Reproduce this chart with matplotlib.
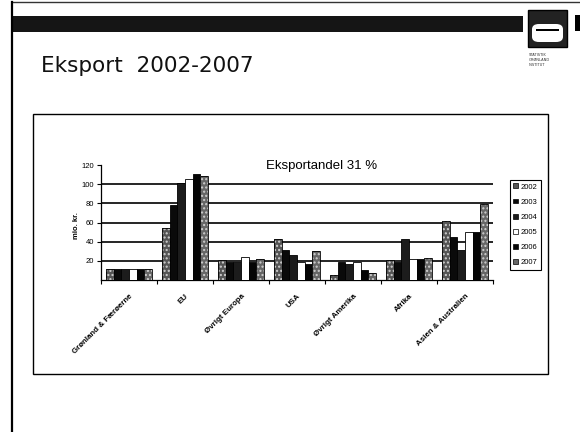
import numpy as np
import matplotlib
matplotlib.use("Agg")
import matplotlib.pyplot as plt
from matplotlib.patches import Rectangle, FancyBboxPatch
from matplotlib.lines import Line2D
from matplotlib.transforms import ScaledTranslation

# data (mio. kr.)
regions = ['Grønland & Færøerne', 'EU', 'Øvrigt Europa', 'USA',
           'Øvrigt Amerika', 'Afrika', 'Asien & Australien']
years = ['2002', '2003', '2004', '2005', '2006', '2007']
v2002 = [11, 54, 21, 43, 5, 21, 62]
v2003 = [11, 78, 19, 31, 19, 19, 45]
v2004 = [11, 101, 19, 26, 17, 43, 31]
v2005 = [11, 105, 24, 19, 19, 22, 50]
v2006 = [11, 111, 19, 17, 10, 22, 50]
v2007 = [11, 109, 22, 30, 7, 23, 79]
series = [v2002, v2003, v2004, v2005, v2006, v2007]
yticks = [20, 40, 60, 80, 100, 120]
grid_levels = [20, 40, 60, 80, 100]

# scanned black/white look: (face, hatch)
styles = [('#555555', '....'), ('#0a0a0a', None), ('#1c1c1c', None),
          ('white', None), ('#050505', None), ('#666666', '....')]

W, H = 580, 432
fig = plt.figure(figsize=(W / 100, H / 100), dpi=100)
fig.patch.set_facecolor('white')

def fx(px):
    return px / W

def fy(py):
    return 1 - py / H

# slide decoration
fig.add_artist(Line2D([fx(12), fx(580)], [fy(2), fy(2)], color='#333333', lw=1))
fig.add_artist(Line2D([fx(12), fx(12)], [fy(2), fy(432)], color='black', lw=1.6))
fig.add_artist(Rectangle((fx(12), fy(32)), fx(523) - fx(12), fy(16) - fy(32),
                         transform=fig.transFigure, color='#151515', lw=0))
fig.add_artist(Rectangle((fx(575), fy(31)), fx(580) - fx(575), fy(15) - fy(31),
                         transform=fig.transFigure, color='black', lw=0))
# logo
fig.add_artist(Rectangle((fx(528), fy(47)), fx(567) - fx(528), fy(10) - fy(47),
                         transform=fig.transFigure, facecolor='#222222',
                         edgecolor='black', lw=1))
fig.add_artist(FancyBboxPatch((fx(532), fy(42)), fx(563) - fx(532), fy(24) - fy(42),
                              boxstyle='round,pad=0,rounding_size=0.012',
                              transform=fig.transFigure, facecolor='white', lw=0))
fig.add_artist(Rectangle((fx(536), fy(31)), fx(559) - fx(536), fy(29) - fy(31),
                         transform=fig.transFigure, color='black', lw=0))
for i, line in enumerate(['STATISTIK', 'GRØNLAND', 'INSTITUT']):
    fig.text(fx(529), fy(55 + i * 5), line, fontsize=2.6, color='#333333',
             family='DejaVu Sans', va='center')

fig.text(fx(41), fy(66), 'Eksport  2002-2007', fontsize=15.5,
         family='DejaVu Sans', va='center', ha='left', color='#111111')

# chart frame
fig.add_artist(Rectangle((fx(33), fy(374)), fx(548) - fx(33), fy(114) - fy(374),
                         transform=fig.transFigure, fill=False,
                         edgecolor='black', lw=1))

ax = fig.add_axes([fx(101), fy(280), fx(493) - fx(101), fy(165) - fy(280)])
x = np.arange(len(regions))
bw = 0.137
for i, vals in enumerate(series):
    pos = x + (i - 2.5) * bw
    face, hatch = styles[i]
    if hatch:
        ax.bar(pos, vals, bw, color=face, hatch=hatch, edgecolor='#cfcfcf',
               lw=0, zorder=3)
        ax.bar(pos, vals, bw, fill=False, edgecolor='black', lw=0.6, zorder=4)
    else:
        ax.bar(pos, vals, bw, color=face, edgecolor='black', lw=0.6, zorder=3)

for g in grid_levels:
    ax.axhline(g, color='black', lw=1.2, zorder=1)

ax.set_xlim(-0.5, len(regions) - 0.5)
ax.set_ylim(0, 120)
ax.set_yticks(yticks)
ax.set_yticklabels([str(t) for t in yticks], fontsize=5.5, family='Liberation Sans')
ax.set_xticks(np.arange(len(regions) + 1) - 0.5)
ax.set_xticklabels([])
ax.set_xticks(x, minor=True)
ax.set_xticklabels(regions, minor=True, rotation=45, ha='right', va='top',
                   rotation_mode='anchor', fontsize=5.7, fontweight='bold',
                   family='Liberation Sans')
shift = ScaledTranslation(-4 / 100, 0, fig.dpi_scale_trans)
for lbl in ax.get_xticklabels(minor=True):
    lbl.set_transform(lbl.get_transform() + shift)
ax.tick_params(axis='x', which='minor', length=0, pad=9)
ax.tick_params(axis='x', which='major', length=3, width=0.8, direction='out')
ax.tick_params(axis='y', length=3, width=0.8, direction='out', pad=2)
for s in ['top', 'right']:
    ax.spines[s].set_visible(False)
ax.spines['left'].set_linewidth(0.9)
ax.spines['bottom'].set_linewidth(0.9)

fig.text(fx(76), fy(226), 'mio. kr.', rotation=90, fontsize=5.5,
         fontweight='bold', family='Liberation Sans', ha='center', va='center')
fig.text(fx(322), fy(166), 'Eksportandel 31 %', fontsize=9.5,
         family='Liberation Sans', ha='center', va='center')

handles = []
for i, y in enumerate(years):
    face, hatch = styles[i]
    handles.append(Rectangle((0, 0), 1, 1, facecolor=face, edgecolor='black',
                             lw=0.5, label=y))
leg = fig.legend(handles=handles, loc='upper left',
                 bbox_to_anchor=(fx(510), fy(180)),
                 prop={'family': 'Liberation Sans', 'size': 5.5},
                 handlelength=0.6, handleheight=0.6, handletextpad=0.3,
                 labelspacing=1.05, borderpad=0.45, borderaxespad=0,
                 fancybox=False, framealpha=1)
leg.get_frame().set_edgecolor('black')
leg.get_frame().set_linewidth(0.8)

fig.savefig('out.png', dpi=100)
